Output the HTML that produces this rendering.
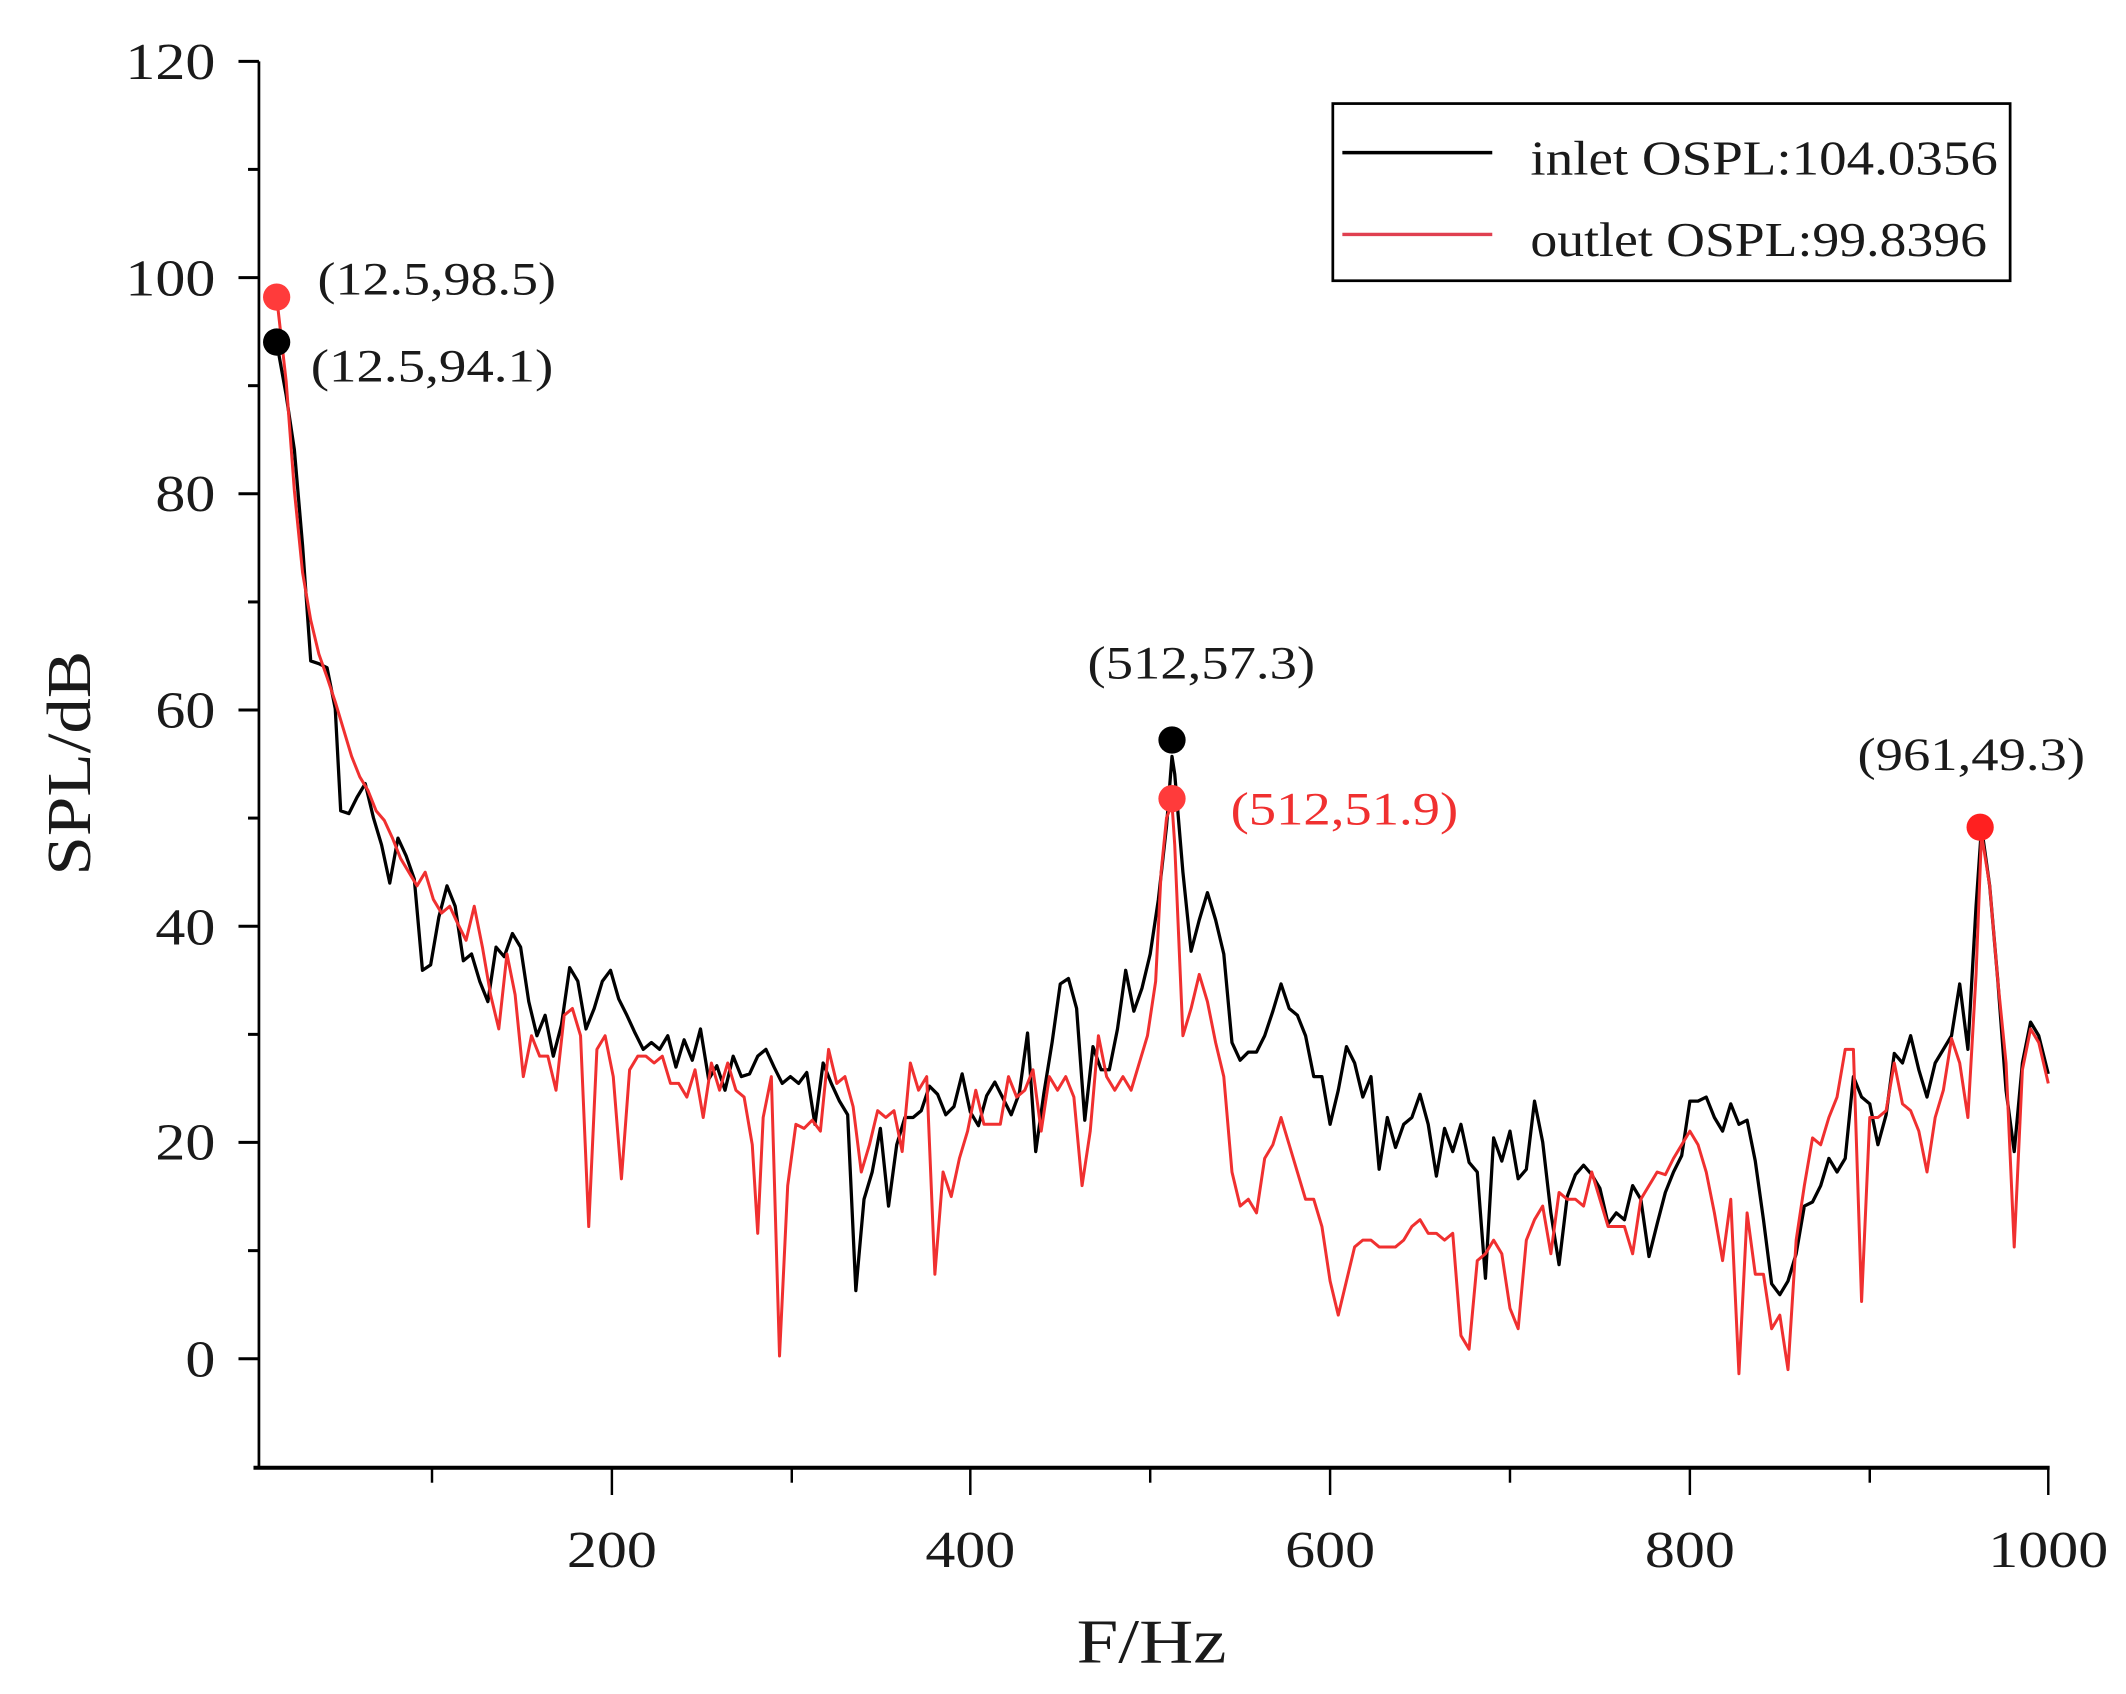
<!DOCTYPE html>
<html><head><meta charset="utf-8"><style>
html,body{margin:0;padding:0;background:#fff;}
svg{display:block;}
text{font-family:"Liberation Serif",serif;fill:#1a1a1a;}
</style></head><body>
<svg width="2126" height="1694" viewBox="0 0 2126 1694" xmlns="http://www.w3.org/2000/svg">
<g transform="scale(1.3628)">
<line x1="190" y1="45" x2="190" y2="1078" stroke="#000" stroke-width="2"/>
<line x1="186" y1="1077" x2="1504" y2="1077" stroke="#000" stroke-width="3"/>
<g stroke="#000" stroke-width="2.2">
<line x1="175" y1="45" x2="190" y2="45"/>
<line x1="182" y1="124.3" x2="190" y2="124.3"/>
<line x1="175" y1="203.7" x2="190" y2="203.7"/>
<line x1="182" y1="283" x2="190" y2="283"/>
<line x1="175" y1="362.3" x2="190" y2="362.3"/>
<line x1="182" y1="441.7" x2="190" y2="441.7"/>
<line x1="175" y1="521" x2="190" y2="521"/>
<line x1="182" y1="600.3" x2="190" y2="600.3"/>
<line x1="175" y1="679.7" x2="190" y2="679.7"/>
<line x1="182" y1="759" x2="190" y2="759"/>
<line x1="175" y1="838.3" x2="190" y2="838.3"/>
<line x1="182" y1="917.7" x2="190" y2="917.7"/>
<line x1="175" y1="997" x2="190" y2="997"/>
</g>
<g stroke="#000" stroke-width="1.8">
<line x1="317" y1="1077" x2="317" y2="1088"/>
<line x1="449" y1="1077" x2="449" y2="1097"/>
<line x1="581" y1="1077" x2="581" y2="1088"/>
<line x1="712" y1="1077" x2="712" y2="1097"/>
<line x1="844" y1="1077" x2="844" y2="1088"/>
<line x1="976" y1="1077" x2="976" y2="1097"/>
<line x1="1108" y1="1077" x2="1108" y2="1088"/>
<line x1="1240" y1="1077" x2="1240" y2="1097"/>
<line x1="1372" y1="1077" x2="1372" y2="1088"/>
<line x1="1503" y1="1077" x2="1503" y2="1097"/>
</g>
<g font-size="38">
<text x="92" y="58" textLength="66" lengthAdjust="spacingAndGlyphs">120</text>
<text x="92" y="217" textLength="66" lengthAdjust="spacingAndGlyphs">100</text>
<text x="114" y="375" textLength="44" lengthAdjust="spacingAndGlyphs">80</text>
<text x="114" y="534" textLength="44" lengthAdjust="spacingAndGlyphs">60</text>
<text x="114" y="693" textLength="44" lengthAdjust="spacingAndGlyphs">40</text>
<text x="114" y="851" textLength="44" lengthAdjust="spacingAndGlyphs">20</text>
<text x="136" y="1010" textLength="22" lengthAdjust="spacingAndGlyphs">0</text>
</g>
<g font-size="38" text-anchor="middle">
<text x="449" y="1150" textLength="66" lengthAdjust="spacingAndGlyphs">200</text>
<text x="712" y="1150" textLength="66" lengthAdjust="spacingAndGlyphs">400</text>
<text x="976" y="1150" textLength="66" lengthAdjust="spacingAndGlyphs">600</text>
<text x="1240" y="1150" textLength="66" lengthAdjust="spacingAndGlyphs">800</text>
<text x="1503" y="1150" textLength="88" lengthAdjust="spacingAndGlyphs">1000</text>
</g>
<text x="845" y="1220" font-size="46" text-anchor="middle" textLength="110" lengthAdjust="spacingAndGlyphs">F/Hz</text>
<text transform="translate(66,560) rotate(-90)" font-size="46" text-anchor="middle" textLength="165" lengthAdjust="spacingAndGlyphs">SPL/dB</text>
<polyline fill="none" stroke="#000" stroke-width="2.4" stroke-linejoin="round" points="203,251 210,290 216,330 222,400 228,485 234,487 240,490 246,520 250,595 256,597 262,585 268,575 274,600 280,620 286,648 292,615 298,628 304,645 310,712 316,708 322,673 328,650 334,665 340,705 346,700 352,720 358,735 364,695 370,702 376,685 382,695 388,735 394,760 400,745 406,775 412,752 418,710 424,720 430,755 436,740 442,720 448,712 454,733 460,745 466,758 472,770 478,765 484,770 490,760 496,783 502,763 508,778 514,755 520,792 526,782 532,800 538,775 544,790 550,788 556,775 562,770 568,783 574,795 580,790 586,795 592,787 598,825 604,780 610,795 616,808 622,818 628,947 634,880 640,860 646,828 652,885 658,840 664,820 670,820 676,815 682,797 688,803 694,818 700,812 706,788 712,816 718,826 724,804 730,794 736,806 742,818 748,802 754,758 760,845 766,802 772,765 778,722 784,718 790,740 796,822 802,768 808,785 814,785 820,755 826,712 832,742 838,725 844,700 850,660 856,606 860,555 862,568 868,640 874,698 880,675 886,655 892,675 898,700 904,765 910,778 916,772 922,772 928,760 934,742 940,722 946,740 952,745 958,760 964,790 970,790 976,825 982,800 988,768 994,780 1000,805 1006,790 1012,858 1018,820 1024,842 1030,825 1036,820 1042,803 1048,825 1054,863 1060,828 1066,845 1072,825 1078,853 1084,860 1090,938 1096,835 1102,852 1108,830 1114,865 1120,858 1126,808 1132,838 1138,890 1144,928 1150,878 1156,862 1162,855 1168,862 1174,872 1180,898 1186,890 1192,895 1198,870 1204,880 1210,922 1216,898 1222,875 1228,860 1234,848 1240,808 1246,808 1252,805 1258,820 1264,830 1270,810 1276,825 1282,822 1288,852 1294,895 1300,942 1306,950 1312,940 1318,920 1324,885 1330,882 1336,870 1342,850 1348,860 1354,850 1360,790 1366,805 1372,810 1378,840 1384,818 1390,773 1396,780 1402,760 1408,785 1414,805 1420,780 1426,770 1432,760 1438,722 1444,770 1450,665 1454,607 1460,650 1466,720 1472,800 1478,845 1484,780 1490,750 1496,760 1503,788"/>
<polyline fill="none" stroke="#f03030" stroke-width="2.2" stroke-linejoin="round" points="203,218 210,280 216,360 222,420 228,455 234,480 240,497 246,515 252,535 258,555 264,570 270,580 276,595 282,602 288,615 294,630 300,640 306,650 312,640 318,660 324,670 330,665 336,678 342,690 348,665 354,695 360,730 366,755 372,700 378,730 384,790 390,760 396,775 402,775 408,800 414,745 420,740 426,760 432,900 438,770 444,760 450,790 456,865 462,785 468,775 474,775 480,780 486,775 492,795 498,795 504,805 510,785 516,820 522,780 528,800 534,780 540,800 546,805 552,840 556,905 560,820 566,790 572,995 578,870 584,825 590,828 596,822 602,830 608,770 614,795 620,790 626,812 632,860 638,840 644,815 650,820 656,815 662,845 668,780 674,800 680,790 686,935 692,860 698,878 704,850 710,830 716,800 722,825 728,825 734,825 740,790 746,805 752,800 758,785 764,830 770,790 776,800 782,790 788,805 794,870 800,830 806,760 812,790 818,800 824,790 830,800 836,780 842,760 848,720 852,640 856,600 860,590 862,620 868,760 874,740 880,715 886,735 892,765 898,790 904,860 910,885 916,880 922,890 928,850 934,840 940,820 946,840 952,860 958,880 964,880 970,900 976,940 982,965 988,940 994,915 1000,910 1006,910 1012,915 1018,915 1024,915 1030,910 1036,900 1042,895 1048,905 1054,905 1060,910 1066,905 1072,980 1078,990 1084,925 1090,920 1096,910 1102,920 1108,960 1114,975 1120,910 1126,895 1132,885 1138,920 1144,875 1150,880 1156,880 1162,885 1168,860 1174,880 1180,900 1186,900 1192,900 1198,920 1204,880 1210,870 1216,860 1222,862 1228,850 1234,840 1240,830 1246,840 1252,860 1258,890 1264,925 1270,880 1276,1008 1282,890 1288,935 1294,935 1300,975 1306,965 1312,1005 1318,910 1324,870 1330,835 1336,840 1342,820 1348,805 1354,770 1360,770 1366,955 1372,820 1378,820 1384,815 1390,780 1396,810 1402,815 1408,830 1414,860 1420,820 1426,800 1432,762 1438,780 1444,820 1450,715 1454,612 1460,650 1466,720 1472,780 1478,915 1484,785 1490,755 1496,765 1503,795"/>
<circle cx="203" cy="251" r="10" fill="#000"/>
<circle cx="203" cy="218" r="10" fill="#ff3b3b"/>
<circle cx="860" cy="543" r="10" fill="#000"/>
<circle cx="860" cy="586" r="10" fill="#ff3b3b"/>
<circle cx="1453" cy="607" r="10" fill="#ff2020"/>
<g font-size="34">
<text x="233" y="216" textLength="175" lengthAdjust="spacingAndGlyphs">(12.5,98.5)</text>
<text x="228" y="280" textLength="178" lengthAdjust="spacingAndGlyphs">(12.5,94.1)</text>
<text x="798" y="498" textLength="167" lengthAdjust="spacingAndGlyphs">(512,57.3)</text>
<text x="903" y="605" textLength="167" lengthAdjust="spacingAndGlyphs" style="fill:#f03030">(512,51.9)</text>
<text x="1363" y="565" textLength="167" lengthAdjust="spacingAndGlyphs">(961,49.3)</text>
</g>
<rect x="978" y="76" width="497" height="130" fill="#fff" stroke="#000" stroke-width="2"/>
<line x1="985" y1="112" x2="1095" y2="112" stroke="#000" stroke-width="2.5"/>
<line x1="985" y1="172" x2="1095" y2="172" stroke="#e04050" stroke-width="2.5"/>
<text x="1123" y="128" font-size="36" textLength="343" lengthAdjust="spacingAndGlyphs">inlet  OSPL:104.0356</text>
<text x="1123" y="188" font-size="36" textLength="335" lengthAdjust="spacingAndGlyphs">outlet OSPL:99.8396</text>
</g>
</svg>
</body></html>
